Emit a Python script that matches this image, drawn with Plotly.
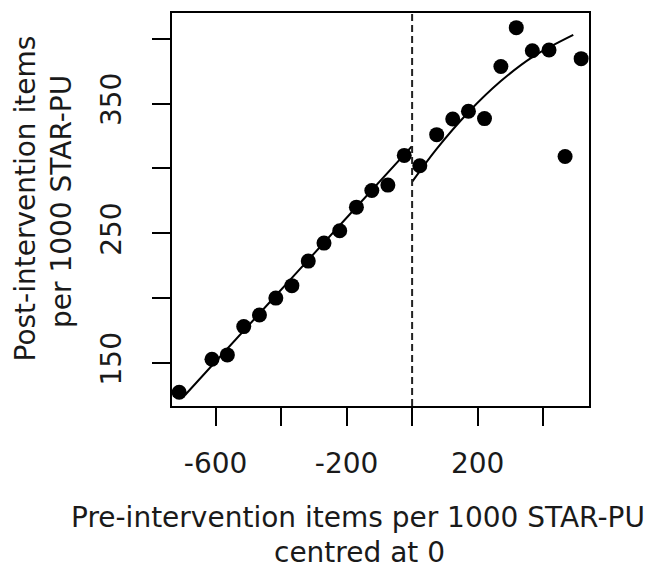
import plotly.graph_objects as go

# Data
x_pre = [-711, -611, -564, -514, -466, -416, -367, -317, -269, -221, -170, -123, -74, -24]
y_pre = [127.4, 152.8, 156.2, 178, 187, 200, 209.6, 228.5, 242.4, 251.9, 270.1, 283, 287.1, 310]
x_post = [23.5, 75, 124, 172, 221, 271, 318, 367, 418, 467, 516]
y_post = [302.0, 326, 338.1, 344, 338.4, 378.6, 408.5, 390.7, 391.3, 309.2, 384.6]

# Fitted lines
fit_pre_x = [-693, -416, -170, -1]
fit_pre_y = [125.3, 202, 270.2, 317]
fit_post_x = [1, 75, 172, 271, 367, 492]
fit_post_y = [290, 315.1, 343.3, 367.3, 385.8, 402.9]

x_tickvals = [-600, -400, -200, 0, 200, 400]
x_ticktext = ["-600", "", "-200", "", "200", ""]
y_tickvals = [150, 200, 250, 300, 350, 400]
y_ticktext = ["150", "", "250", "", "350", ""]

FONT = "DejaVu Sans, Liberation Sans, Arial, sans-serif"
W, H = 653, 572
L, R, T, B = 172, 64, 13, 166
pw, ph = W - L - R, H - T - B

def px(xp):
    return (xp - L) / pw

def py(yp):
    return 1 - (yp - T) / ph

fig = go.Figure()
fig.add_trace(go.Scatter(x=x_pre + x_post, y=y_pre + y_post, mode="markers",
                         marker=dict(color="black", size=15), showlegend=False))
fig.add_trace(go.Scatter(x=fit_pre_x, y=fit_pre_y, mode="lines",
                         line=dict(color="black", width=2, shape="spline"), showlegend=False))
fig.add_trace(go.Scatter(x=fit_post_x, y=fit_post_y, mode="lines",
                         line=dict(color="black", width=2, shape="spline"), showlegend=False))

fig.add_shape(type="line", xref="x", yref="paper", x0=0, x1=0, y0=0, y1=1,
              line=dict(color="#222", width=2, dash="7px,4px"))

axis_common = dict(showgrid=False, zeroline=False, showline=True, linecolor="black",
                   linewidth=2, mirror=True, ticks="outside", ticklen=18, tickwidth=2,
                   tickcolor="black", tickfont=dict(family=FONT, size=28, color="#1a1a1a"))

fig.update_xaxes(range=[-733, 540], tickmode="array", tickvals=x_tickvals,
                 ticktext=x_ticktext, ticklabelstandoff=13, **axis_common)
fig.update_yaxes(range=[116.8, 419.8], tickmode="array", tickvals=y_tickvals,
                 ticktext=y_ticktext, tickangle=-90, ticklabelstandoff=20, **axis_common)

ann_font = dict(family=FONT, size=28, color="#1a1a1a")
fig.add_annotation(text="Pre-intervention items per 1000 STAR-PU", xref="paper", yref="paper",
                   x=px(358), y=py(517), xanchor="center", yanchor="middle",
                   showarrow=False, font=ann_font)
fig.add_annotation(text="centred at 0", xref="paper", yref="paper",
                   x=px(359), y=py(552), xanchor="center", yanchor="middle",
                   showarrow=False, font=ann_font)
fig.add_annotation(text="Post-intervention items", xref="paper", yref="paper",
                   x=px(25), y=py(198.5), xanchor="center", yanchor="middle",
                   textangle=-90, showarrow=False, font=ann_font)
fig.add_annotation(text="per 1000 STAR-PU", xref="paper", yref="paper",
                   x=px(61), y=py(202), xanchor="center", yanchor="middle",
                   textangle=-90, showarrow=False, font=ann_font)

fig.update_layout(width=W, height=H, margin=dict(l=L, r=R, t=T, b=B),
                  plot_bgcolor="white", paper_bgcolor="white")

fig.write_html("out.html")
